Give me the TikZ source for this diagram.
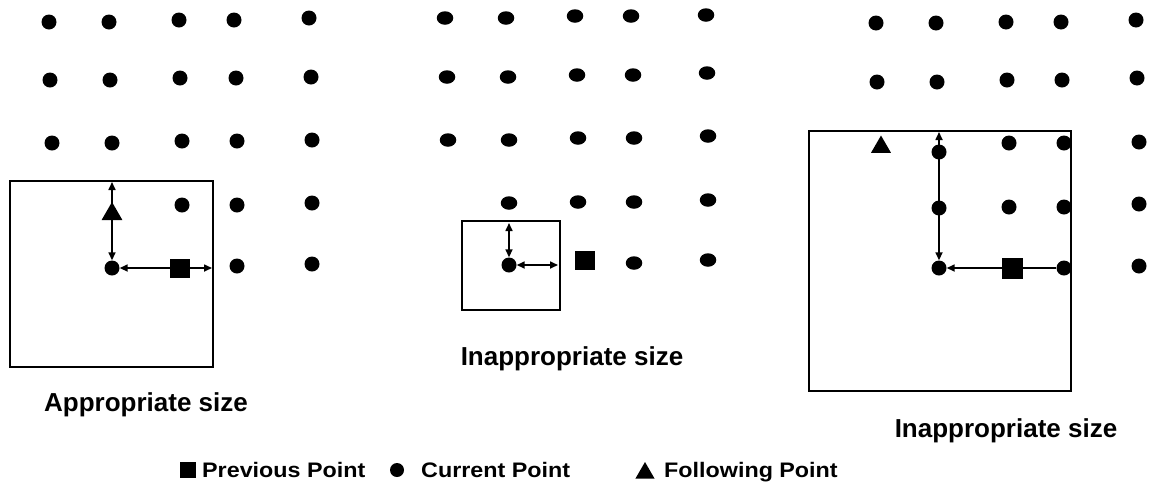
\documentclass[tikz,border=0pt]{standalone}
\usepackage{fontspec}
\setmainfont{Liberation Sans}
\usetikzlibrary{arrows.meta,shapes.geometric}
\tikzset{
  dot/.style={circle,fill=black,inner sep=0pt,minimum size=15pt},
  edot/.style={ellipse,fill=black,inner sep=0pt,minimum width=16.5pt,minimum height=13.5pt},
  sq/.style={rectangle,fill=black,inner sep=0pt,minimum width=20pt,minimum height=19pt},
  tri/.style={regular polygon,regular polygon sides=3,fill=black,inner sep=0pt,minimum size=24pt},
  win/.style={draw=black,line width=1.3pt},
  dbl/.style={line width=1.6pt,{Triangle[length=8pt,width=7pt]}-{Triangle[length=8pt,width=7pt]}},
  sgl/.style={line width=1.6pt,-{Triangle[length=8pt,width=7pt]}},
  captext/.style={font=\fontsize{26}{30}\selectfont\bfseries,anchor=base,inner sep=0pt},
  legtext/.style={font=\fontsize{21}{25}\selectfont\bfseries,anchor=base west,inner sep=0pt}
}
\begin{document}
\begin{tikzpicture}[x=1pt,y=-1pt]
\useasboundingbox (0,0) rectangle (1154,491);
% ---------- left panel ----------
\draw[win] (10,181) rectangle (213,367);
\foreach \n/\x/\y in {11/49/22,12/109/22,13/179/20,14/234/20,15/309/18,
  21/50/80,22/110/80,23/180/78,24/236/78,25/311/77,
  31/52/143,32/112/143,33/182/141,34/237/141,35/312/140,
  42/182/205,43/237/205,44/312/203,
  53/237/266,54/312/264}
  \node[dot] (L\n) at (\x,\y) {};
\node[dot] (Lcur) at (112,268) {};
\coordinate (Ltop) at (112,182);
\coordinate (Lright) at (212,268);
\draw[dbl] (Lcur) -- (Ltop);
\draw[dbl] (Lcur) -- (Lright);
\node[tri] (Ltri) at (112,214) {};
\node[sq] (Lsq) at (180,268) {};
\node[captext] (Lcap) at (146,411) {Appropriate size};
% ---------- middle panel ----------
\draw[win] (462,221) rectangle (560,310);
\foreach \n/\x/\y in {11/445/18,12/506/18,13/575/16,14/631/16,15/706/15,
  21/447/77,22/508/77,23/577/75,24/633/75,25/707/73,
  31/448/140,32/509/140,33/578/138,34/634/138,35/708/136,
  41/509/203,42/578/202,43/634/202,44/708/200,
  53/634/263,54/708/260}
  \node[edot] (M\n) at (\x,\y) {};
\node[dot] (Mcur) at (509,265) {};
\coordinate (Mtop) at (509,223);
\coordinate (Mright) at (558,265);
\draw[dbl] (Mcur) -- (Mtop);
\draw[dbl] (Mcur) -- (Mright);
\node[sq] (Msq) at (585,260) {};
\node[captext] (Mcap) at (572,365) {Inappropriate size};
% ---------- right panel ----------
\draw[win] (809,131) rectangle (1071,391);
\foreach \n/\x/\y in {11/876/23,12/936/23,13/1006/22,14/1061/22,15/1136/20,
  21/877/82,22/937/82,23/1007/80,24/1062/80,25/1137/78,
  31/939/152,32/1009/143,33/1064/143,34/1139/142,
  41/939/208,42/1009/207,43/1064/207,44/1139/204,
  53/1064/268,54/1139/266}
  \node[dot] (R\n) at (\x,\y) {};
\node[dot] (Rcur) at (939,268) {};
\coordinate (Rtop) at (939,132);
\draw[dbl] (Rcur) -- (Rtop);
\draw[sgl] (R53) -- (Rcur);
\node[tri,minimum size=23pt] (Rtri) at (881,147) {};
\node[sq,minimum width=21pt,minimum height=21pt] (Rsq) at (1012,268) {};
\node[captext] (Rcap) at (1006,437) {Inappropriate size};
% ---------- legend ----------
\node[sq,minimum width=16pt,minimum height=16pt] (Gsq) at (188,470) {};
\node[legtext] (Gprev) at (202,477) {\scalebox{1.11}[1]{Previous Point}};
\node[dot,minimum size=14pt] (Gdot) at (397,470) {};
\node[legtext] (Gcur) at (421,477) {\scalebox{1.11}[1]{Current Point}};
\node[tri,minimum size=22pt] (Gtri) at (645,473) {};
\node[legtext] (Gfol) at (664,477) {\scalebox{1.11}[1]{Following Point}};
\end{tikzpicture}
\end{document}
